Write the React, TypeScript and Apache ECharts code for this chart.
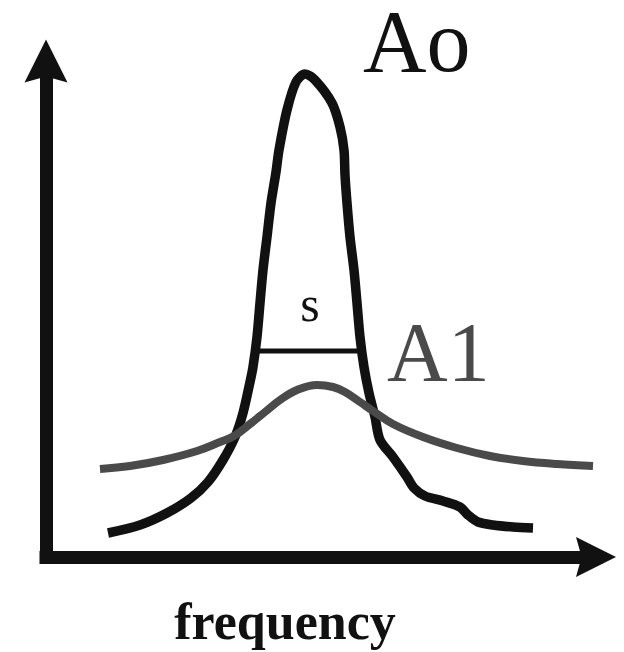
import React, { useEffect, useRef } from "react";
import * as echarts from "echarts";

// Narrow resonance (Ao): [frequency, amplitude]
const peakCurve: [number, number][] = [
  [12.4, 4.8], [18.8, 6.4], [24.2, 8.8], [29.0, 11.8], [32.4, 15.0],
  [35.4, 19.4], [37.8, 24.0], [39.4, 28.8], [40.8, 35.0], [41.4, 38.0],
  [42.2, 44.0], [42.8, 50.8], [43.4, 57.4], [44.2, 64.0], [45.0, 70.8],
  [46.0, 77.0], [46.6, 81.4], [48.2, 89.4], [50.0, 95.0], [51.8, 96.6],
  [53.8, 95.4], [57.2, 90.8], [58.8, 86.0], [59.6, 81.4], [59.8, 76.4],
  [60.2, 70.8], [60.8, 64.0], [61.6, 57.4], [62.2, 50.8], [62.8, 44.0],
  [63.6, 38.0], [64.6, 32.8], [65.8, 28.0], [66.8, 23.4], [69.4, 20.0],
  [72.2, 16.0], [73.6, 13.8], [75.8, 12.2], [79.4, 11.2], [82.8, 10.0],
  [84.4, 8.4], [86.4, 7.0], [89.4, 6.4], [93.4, 6.0], [97.4, 5.8],
];

// Broadened response (A1)
const broadCurve: [number, number][] = [
  [10.8, 17.6], [16.8, 18.2], [23.4, 19.4], [30.2, 21.2], [34.8, 23.0],
  [37.6, 24.2], [40.8, 26.6], [43.8, 29.0], [46.8, 31.4], [50.2, 33.4],
  [54.2, 34.4], [57.4, 34.0], [59.8, 33.0], [62.8, 31.0], [65.4, 29.2],
  [69.4, 26.6], [75.4, 24.0], [82.2, 21.8], [88.8, 20.2], [95.4, 19.2],
  [102.2, 18.6], [109.4, 18.2],
];

// Width marker "s" across the peak
const widthLevel = 41.2;
const widthSpan: [number, number] = [42.4, 62.4];

const X_MAX = 110;
const Y_MAX = 99.2;

const INK = "#111111";
const GREY = "#4a4a4a";
const SERIF = "Liberation Serif";
const ARROW = "path://M50,0 L100,100 L50,86 L0,100 Z";

export default function App() {
  const ref = useRef<HTMLDivElement>(null);

  useEffect(() => {
    if (!ref.current) return;
    const chart = echarts.init(ref.current, null, { renderer: "svg" });
    chart.setOption({
      animation: false,
      backgroundColor: "#ffffff",
      grid: { left: 46, right: 28, top: 61, bottom: 95, containLabel: false },
      xAxis: {
        type: "value",
        min: 0,
        max: X_MAX,
        axisLine: {
          show: true,
          symbol: ["none", ARROW],
          symbolSize: [42, 40],
          lineStyle: { color: INK, width: 13, cap: "square" },
        },
        axisTick: { show: false },
        axisLabel: { show: false },
        splitLine: { show: false },
      },
      yAxis: {
        type: "value",
        min: 0,
        max: Y_MAX,
        axisLine: {
          show: true,
          symbol: ["none", ARROW],
          symbolSize: [44, 43],
          lineStyle: { color: INK, width: 13, cap: "square" },
        },
        axisTick: { show: false },
        axisLabel: { show: false },
        splitLine: { show: false },
      },
      series: [
        {
          type: "line",
          data: peakCurve,
          smooth: 0.3,
          showSymbol: false,
          lineStyle: { color: INK, width: 9.5, join: "round" },
          z: 2,
        },
        {
          type: "line",
          data: broadCurve,
          smooth: 0.4,
          showSymbol: false,
          lineStyle: { color: GREY, width: 8 },
          z: 3,
        },
        {
          type: "line",
          data: [
            [widthSpan[0], widthLevel],
            [widthSpan[1], widthLevel],
          ],
          showSymbol: false,
          lineStyle: { color: INK, width: 5 },
          z: 2,
        },
      ],
      graphic: [
        {
          type: "text",
          x: 363,
          y: 41,
          style: {
            text: "Ao",
            fontFamily: SERIF,
            fontSize: 88,
            fill: INK,
            textAlign: "left",
            textVerticalAlign: "middle",
          },
        },
        {
          type: "text",
          x: 387,
          y: 352,
          style: {
            text: "A1",
            fontFamily: SERIF,
            fontSize: 84,
            fill: GREY,
            textAlign: "left",
            textVerticalAlign: "middle",
          },
        },
        {
          type: "text",
          x: 310,
          y: 304,
          style: {
            text: "s",
            fontFamily: SERIF,
            fontSize: 50,
            fill: INK,
            textAlign: "center",
            textVerticalAlign: "middle",
          },
        },
        {
          type: "text",
          x: 285,
          y: 621,
          style: {
            text: "frequency",
            fontFamily: SERIF,
            fontSize: 52,
            fontWeight: "bold",
            fill: INK,
            textAlign: "center",
            textVerticalAlign: "middle",
          },
        },
      ],
    });
    return () => chart.dispose();
  }, []);

  return (
    <div
      ref={ref}
      style={{ position: "absolute", left: 0, top: 0, width: 624, height: 652 }}
    />
  );
}
